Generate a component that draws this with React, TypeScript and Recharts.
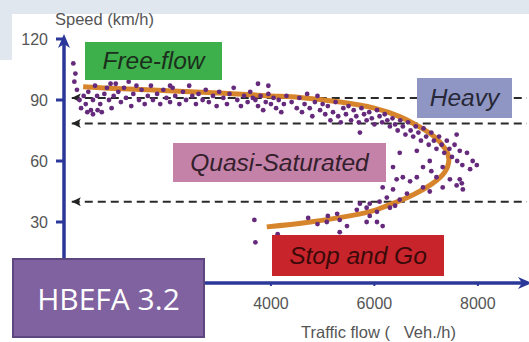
import React from 'react';
import { ComposedChart, XAxis, YAxis, Scatter, Line, ReferenceLine } from 'recharts';

const xTicks = [4000, 6000, 8000];
const yTicks = [30, 60, 90, 120];
const thresholds = [91, 78.5, 40];
const xMax = 8950;
const yMax = 120;

const curveRaw: [number, number][] = [
  [370, 96.5], [1000, 95.6], [2000, 94.6], [3000, 93.4], [4000, 92], [4560, 91.2], [5340, 89],
  [6000, 86], [6500, 81.7], [6890, 76.5], [7180, 71.5], [7370, 66], [7440, 61], [7360, 54.5],
  [7100, 48.5], [6760, 43.5], [6450, 40], [6120, 36.8], [5730, 34], [4760, 30], [3920, 27.6],
];

const pointsRaw: [number, number][] = [
  [180, 108], [220, 103], [200, 99], [250, 95], [300, 90], [330, 86], [380, 92], [420, 88], [470, 94],
  [520, 85], [560, 90], [600, 97], [640, 92], [700, 88], [730, 84], [780, 93], [830, 96], [870, 90],
  [920, 86], [960, 92], [1000, 98], [1050, 94], [1100, 89], [1160, 96], [1200, 91], [1250, 99],
  [1300, 87], [1340, 93], [1400, 97], [1450, 90], [1500, 95], [1560, 88], [1620, 92], [1680, 97],
  [1720, 90], [1800, 93], [1860, 88], [1920, 95], [1980, 91], [2050, 89], [2100, 96], [2150, 92],
  [2230, 88], [2300, 94], [2360, 90], [2420, 97], [2480, 92], [2550, 88], [2600, 93], [2680, 90],
  [2740, 95], [2800, 89], [2880, 92], [2950, 87], [3000, 94], [3080, 91], [3150, 88], [3200, 93],
  [3280, 96], [3350, 90], [3420, 87], [3480, 92], [3550, 89], [3600, 94], [3650, 91],
  [450, 84], [560, 83], [650, 85], [900, 98], [2050, 97], [3750, 98], [3950, 97],
  [3700, 90], [3750, 87], [3800, 92], [3850, 85], [3900, 89], [3950, 93], [4000, 88], [4050, 91],
  [4100, 86], [4150, 90], [4200, 84], [4250, 88], [4300, 92], [4400, 89], [4500, 86], [4550, 91],
  [4600, 84], [4650, 88], [4700, 93], [4750, 86], [4800, 82], [4850, 89], [4900, 92], [4950, 85],
  [5000, 88], [5050, 83], [5100, 87], [5150, 80], [5200, 84], [5250, 89], [5300, 82], [5350, 79],
  [5400, 86], [5450, 83], [5500, 87], [5550, 80], [5600, 85], [5650, 82], [5700, 79], [5720, 74],
  [5750, 86], [5800, 83], [5850, 80], [5900, 84], [5950, 81], [6000, 78], [6050, 85], [6100, 82],
  [6150, 79], [6200, 83], [6250, 80], [6300, 77], [6350, 81], [6400, 78], [6450, 75], [6500, 80],
  [6550, 77], [6600, 73], [6650, 79], [6700, 75], [6750, 72], [6800, 77], [6850, 74], [6900, 70],
  [6950, 76], [7000, 72], [7050, 68], [7100, 74], [7150, 70], [7200, 66], [7250, 72], [7300, 68],
  [7350, 64], [7400, 70], [7450, 66], [7500, 62], [7550, 68], [7590, 73], [7600, 60], [7650, 65],
  [7700, 58], [7790, 64], [7850, 56], [7900, 60], [7980, 58], [7650, 51], [7460, 51], [7320, 47],
  [7710, 46], [7320, 57], [7070, 60], [6940, 57], [6820, 52], [6820, 65], [6490, 64], [6360, 57],
  [6430, 51], [6550, 52], [6690, 50], [6160, 47], [6360, 46], [6630, 44], [6940, 47], [7070, 45],
  [7200, 52], [7100, 55], [7590, 48], [7690, 49],
  [6240, 42], [6490, 41], [5910, 39], [6300, 37], [5720, 39], [5660, 36], [5850, 37], [6050, 35],
  [5910, 33], [6160, 28], [6050, 30], [5850, 30], [5330, 31], [5470, 28], [5280, 34], [5100, 33],
  [5080, 30], [5330, 25], [4720, 32], [4900, 29], [3680, 31], [3700, 20], [4130, 24], [6100, 40],
  [6400, 38],
];

const curve = curveRaw.map(([flow, speed]) => ({ flow, speed }));
const points = pointsRaw.map(([flow, speed]) => ({ flow, speed }));

const AXIS = '#2B389A';
const TICK_COLOR = '#555';
const FONT = '"Liberation Sans", Arial, sans-serif';

const Dot = (props: any) => {
  const { cx, cy } = props;
  if (cx == null || cy == null) return null;
  return <circle cx={cx} cy={cy} r={2.4} fill="#662A7C" />;
};

const DashedArrow = (p: any) => (
  <line x1={p.x1} y1={p.y1} x2={p.x2} y2={p.y2} stroke="#2a2a2a" strokeWidth={2}
    strokeDasharray="8 5" markerStart="url(#darr)" />
);

const AxisArrow = (p: any) => (
  <line x1={p.x1} y1={p.y1} x2={p.x2} y2={p.y2} stroke={AXIS} strokeWidth={3.5}
    markerEnd="url(#barr)" />
);

const boxBase: React.CSSProperties = {
  position: 'absolute', display: 'flex', alignItems: 'center', justifyContent: 'center',
  fontFamily: FONT, fontStyle: 'italic', fontSize: 24.5,
  color: '#222', whiteSpace: 'nowrap',
};

export default function App() {
  return (
    <div style={{ position: 'absolute', left: 0, top: 0, width: 529, height: 342, background: '#fff', overflow: 'hidden' }}>
      <div style={{ position: 'absolute', left: 0, top: 0, width: 529, height: 14, background: '#E0E7EF' }} />
      <div style={{ position: 'absolute', left: 0, top: 0, width: 12, height: 60, background: '#E0E7EF' }} />
      <svg width={0} height={0} style={{ position: 'absolute' }}>
        <defs>
          <marker id="barr" viewBox="0 0 14 12" markerWidth={14} markerHeight={12} refX={9} refY={6}
            orient="auto" markerUnits="userSpaceOnUse">
            <path d="M0,0 L14,6 L0,12 L4,6 z" fill={AXIS} />
          </marker>
          <marker id="darr" viewBox="0 0 9 9" markerWidth={9} markerHeight={9} refX={9} refY={4.5}
            orient="auto-start-reverse" markerUnits="userSpaceOnUse">
            <path d="M0,0 L9,4.5 L0,9 L2,4.5 z" fill="#222" />
          </marker>
        </defs>
      </svg>
      <div style={{ position: 'absolute', left: 0, top: 0 }}>
        <ComposedChart width={529} height={342} margin={{ top: 39, right: 2, bottom: 29, left: 4 }}>
          <XAxis dataKey="flow" type="number" domain={[0, xMax]} ticks={xTicks} allowDataOverflow
            height={30} tickSize={3} tickMargin={12} axisLine={false}
            tickLine={{ stroke: AXIS, strokeWidth: 2 }}
            tick={{ fill: TICK_COLOR, fontSize: 16, fontFamily: FONT }} />
          <YAxis type="number" domain={[0, yMax]} ticks={yTicks} allowDataOverflow width={60}
            tickSize={8} tickMargin={8} axisLine={false}
            tickLine={{ stroke: AXIS, strokeWidth: 3 }}
            tick={{ fill: TICK_COLOR, fontSize: 16, fontFamily: FONT }} />
          {thresholds.map((t) => (
            <ReferenceLine key={t} segment={[{ x: 150, y: t }, { x: xMax, y: t }]} shape={DashedArrow} ifOverflow="visible" />
          ))}
          <Line data={curve} dataKey="speed" type="natural" stroke="#D7852C" strokeWidth={5}
            dot={false} activeDot={false} isAnimationActive={false} />
          <Scatter data={points} dataKey="speed" shape={Dot} isAnimationActive={false} />
          <ReferenceLine segment={[{ x: 0, y: 0 }, { x: xMax, y: 0 }]} shape={AxisArrow} ifOverflow="visible" />
          <ReferenceLine segment={[{ x: 0, y: 0 }, { x: 0, y: yMax }]} shape={AxisArrow} ifOverflow="visible" />
        </ComposedChart>
      </div>
      <div style={{ position: 'absolute', left: 55, top: 10, fontSize: 16.5, color: TICK_COLOR, fontFamily: FONT }}>Speed (km/h)</div>
      <div style={{ position: 'absolute', left: 301, top: 323, fontSize: 16.5, color: TICK_COLOR, fontFamily: FONT, whiteSpace: 'pre' }}>{'Traffic flow (   Veh./h)'}</div>
      <div style={{ ...boxBase, left: 85, top: 42, width: 137, height: 38, background: '#3DB04B', color: '#1C2E1C' }}>Free-flow</div>
      <div style={{ ...boxBase, left: 417, top: 78, width: 95, height: 40, background: '#9096C3', color: '#262838' }}>Heavy</div>
      <div style={{ ...boxBase, left: 173, top: 143, width: 213, height: 39, background: '#C482A8', color: '#33202C' }}>Quasi-Saturated</div>
      <div style={{ ...boxBase, left: 272, top: 235, width: 172, height: 41, background: '#C8242B', color: '#3A0A0A' }}>Stop and Go</div>
      <div style={{ position: 'absolute', left: 12, top: 258, width: 189, height: 76, background: '#8062A0', border: '2px solid #5E4780', display: 'flex', alignItems: 'center', justifyContent: 'center', color: '#fff', fontSize: 30, fontFamily: '"Open Sans", sans-serif' }}>HBEFA 3.2</div>
    </div>
  );
}
